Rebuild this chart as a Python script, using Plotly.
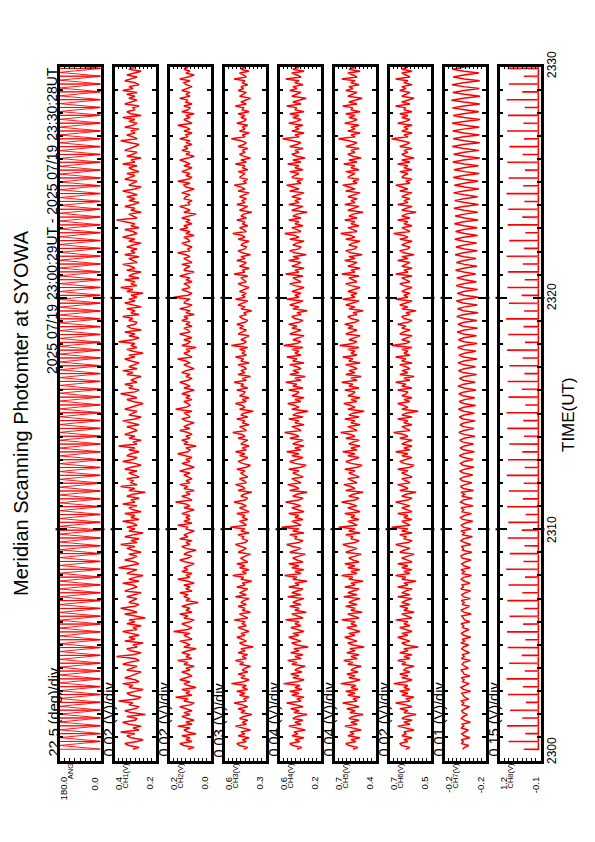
import plotly.graph_objects as go

W, H = 595, 842

# ---------------- data ----------------
channel_names = ["ANG", "CH1(V)", "CH2(V)", "CH3(V)", "CH4(V)", "CH5(V)", "CH6(V)", "CH7(V)", "CH8(V)"]
top_labels = ["180.0", "0.4", "0.2", "0.6", "0.6", "0.7", "0.7", "-0.2", "1.2"]
bottom_labels = ["0.0", "0.2", "0.0", "0.3", "0.2", "0.4", "0.5", "-0.2", "-0.1"]
div_labels = ["22.5 (deg)/div", "0.02 (V)/div", "0.02 (V)/div", "0.03 (V)/div", "0.04 (V)/div",
              "0.04 (V)/div", "0.02 (V)/div", "0.01 (V)/div", "0.15 (V)/div"]
value_ranges = [(180, 0), (0.4, 0.2), (0.2, 0.0), (0.6, 0.3), (0.6, 0.2), (0.74, 0.34), (0.7, 0.5), (-0.15, -0.25), (1.25, -0.1)]
value_divs = [22.5, 0.02, 0.02, 0.03, 0.04, 0.04, 0.02, 0.01, 0.15]
time_tick_labels = ["2300", "2310", "2320", "2330"]
time_tick_values = [0, 10, 20, 30]   # minutes after 23:00

start_min = 29 / 60.0       # 23:00:29
end_min = 30 + 28 / 60.0    # 23:30:28
scan_min = 20.3 / 60.0      # scan period

ch1 = [0.31,0.28,0.33,0.35,0.29,0.26,0.32,0.34,0.30,0.37,0.28,0.31,0.27,0.33,0.36,0.30,0.29,0.34,0.25,0.32,
       0.35,0.30,0.28,0.33,0.31,0.38,0.29,0.27,0.32,0.34,0.30,0.26,0.33,0.31,0.36,0.28,0.30,0.35,0.32,0.29,
       0.27,0.34,0.31,0.29,0.36,0.33,0.28,0.30,0.39,0.31,0.27,0.32,0.34,0.29,0.31,0.26,0.35,0.30,0.33,0.28,
       0.32,0.36,0.29,0.31,0.27,0.34,0.30,0.33,0.25,0.31,0.35,0.29,0.32,0.37,0.30,0.28,0.33,0.31,0.29,0.34,
       0.30,0.27,0.35,0.32,0.29,0.31,0.36,0.28,0.33,0.30,0.26,0.34,0.31,0.29,0.38,0.32,0.28,0.30,0.35,0.31,
       0.29,0.33,0.27,0.31,0.34,0.30,0.37,0.29,0.32,0.28,0.35,0.31,0.26,0.33,0.30,0.34,0.29,0.31,0.36,0.28,
       0.32,0.30,0.35,0.27,0.31,0.33,0.29,0.36,0.30,0.32,0.28,0.34,0.31,0.25,0.33,0.30,0.37,0.29,0.32,0.31,
       0.34,0.28,0.31,0.33,0.29,0.35,0.32,0.27,0.30,0.36,0.31,0.29,0.34,0.32,0.28,0.33,0.30,0.38,0.29,0.31,
       0.27,0.33,0.30,0.35,0.32,0.29,0.31,0.34,0.28,0.32,0.36,0.30,0.27,0.33,0.31,0.29,0.35,0.32,0.30,0.26,
       0.31,0.34,0.29,0.32,0.37,0.30,0.28,0.33,0.31,0.35,0.29,0.32,0.30,0.27,0.34,0.31,0.36,0.29,0.33,0.30,
       0.28,0.32,0.35,0.30,0.33,0.26,0.31,0.34,0.29,0.32,0.30,0.38,0.31,0.28,0.33,0.30,0.35,0.27,0.32,0.34,
       0.30,0.29,0.33,0.31,0.36,0.28,0.32,0.30,0.34,0.27,0.31,0.35,0.30,0.33,0.29,0.32,0.26,0.34,0.31,0.37,
       0.29,0.32,0.30,0.35,0.28,0.33,0.31,0.27,0.34,0.30,0.32,0.36,0.29,0.31,0.33,0.28,0.35,0.30,0.32,0.29,
       0.34,0.31,0.27,0.33,0.30,0.36,0.32,0.29,0.31,0.35,0.28,0.32,0.30,0.34,0.39,0.29,0.31,0.33,0.27,0.32,
       0.30,0.35,0.31,0.28,0.33,0.30,0.34,0.29,0.32,0.36,0.30,0.27,0.33,0.31,0.29,0.35,0.32,0.30,0.34,0.28,
       0.31,0.33,0.29,0.36,0.30,0.32,0.27,0.34,0.31,0.29,0.35,0.32,0.30,0.28,0.33,0.37,0.29,0.31,0.34,0.30,
       0.32,0.28,0.35,0.31,0.29,0.33,0.30,0.36,0.27,0.32,0.34,0.30,0.31,0.28,0.35,0.32,0.29,0.33,0.30,0.34,
       0.29,0.36,0.31,0.33,0.28,0.30,0.35,0.32,0.29,0.34,0.31,0.27,0.33,0.30,0.37,0.31,0.29,0.32,0.35,0.30]
ch2 = [0.11,0.08,0.13,0.15,0.09,0.12,0.10,0.14,0.07,0.11,0.13,0.10,0.16,0.09,0.12,0.08,0.11,0.14,0.10,0.13,
       0.09,0.12,0.15,0.10,0.08,0.13,0.11,0.17,0.09,0.12,0.10,0.14,0.07,0.11,0.13,0.10,0.15,0.12,0.09,0.11,
       0.14,0.10,0.12,0.08,0.13,0.11,0.16,0.09,0.12,0.10,0.14,0.11,0.07,0.13,0.10,0.12,0.15,0.09,0.11,0.13,
       0.10,0.18,0.11,0.09,0.12,0.14,0.10,0.08,0.13,0.11,0.15,0.09,0.12,0.10,0.14,0.11,0.06,0.12,0.10,0.13,
       0.11,0.15,0.09,0.12,0.10,0.13,0.08,0.11,0.16,0.10,0.12,0.09,0.14,0.11,0.13,0.10,0.08,0.12,0.15,0.11,
       0.09,0.13,0.11,0.07,0.12,0.14,0.10,0.12,0.09,0.15,0.11,0.13,0.10,0.08,0.12,0.11,0.16,0.09,0.13,0.10,
       0.12,0.10,0.14,0.11,0.08,0.13,0.10,0.12,0.17,0.09,0.11,0.14,0.10,0.12,0.08,0.13,0.11,0.15,0.10,0.12,
       0.09,0.11,0.13,0.10,0.15,0.12,0.08,0.11,0.14,0.10,0.12,0.09,0.13,0.16,0.11,0.10,0.12,0.07,0.13,0.11,
       0.14,0.10,0.12,0.09,0.11,0.15,0.10,0.13,0.11,0.08,0.12,0.14,0.10,0.11,0.13,0.09,0.17,0.12,0.10,0.11,
       0.13,0.09,0.12,0.10,0.14,0.11,0.08,0.13,0.10,0.12,0.15,0.11,0.09,0.12,0.10,0.14,0.12,0.08,0.11,0.13,
       0.10,0.12,0.16,0.09,0.11,0.13,0.10,0.12,0.07,0.14,0.11,0.10,0.13,0.09,0.12,0.15,0.10,0.11,0.13,0.09,
       0.12,0.10,0.14,0.11,0.13,0.08,0.12,0.10,0.15,0.11,0.09,0.13,0.12,0.10,0.18,0.11,0.09,0.12,0.14,0.10,
       0.11,0.13,0.09,0.12,0.10,0.15,0.11,0.08,0.13,0.12,0.10,0.14,0.09,0.11,0.13,0.10,0.12,0.16,0.10,0.11,
       0.09,0.12,0.14,0.10,0.11,0.13,0.08,0.12,0.10,0.15,0.11,0.13,0.09,0.12,0.10,0.14,0.11,0.07,0.13,0.10,
       0.12,0.15,0.10,0.11,0.09,0.13,0.12,0.10,0.14,0.11,0.08,0.12,0.13,0.10,0.16,0.11,0.09,0.12,0.10,0.14,
       0.11,0.09,0.13,0.10,0.12,0.15,0.11,0.08,0.12,0.10,0.14,0.11,0.13,0.09,0.12,0.10,0.15,0.11,0.12,0.09,
       0.13,0.10,0.12,0.16,0.09,0.11,0.13,0.10,0.12,0.08,0.14,0.11,0.10,0.13,0.09,0.12,0.11,0.15,0.10,0.12,
       0.10,0.14,0.11,0.09,0.12,0.13,0.10,0.15,0.11,0.08,0.12,0.10,0.13,0.11,0.16,0.09,0.12,0.10,0.14,0.11]
ch3 = [0.46,0.43,0.49,0.51,0.44,0.47,0.42,0.50,0.45,0.48,0.41,0.46,0.52,0.44,0.47,0.43,0.49,0.46,0.40,0.48,
       0.45,0.50,0.43,0.47,0.53,0.44,0.46,0.42,0.49,0.45,0.51,0.43,0.47,0.44,0.55,0.46,0.42,0.48,0.45,0.50,
       0.43,0.47,0.45,0.41,0.49,0.46,0.52,0.44,0.47,0.43,0.50,0.45,0.48,0.39,0.46,0.49,0.44,0.47,0.51,0.45,
       0.48,0.42,0.46,0.50,0.44,0.47,0.45,0.53,0.43,0.46,0.49,0.41,0.47,0.45,0.50,0.44,0.48,0.46,0.42,0.52,
       0.44,0.49,0.46,0.43,0.51,0.45,0.47,0.40,0.48,0.46,0.54,0.44,0.47,0.42,0.49,0.45,0.51,0.43,0.46,0.48,
       0.45,0.41,0.50,0.47,0.44,0.48,0.52,0.45,0.43,0.47,0.46,0.50,0.42,0.48,0.45,0.56,0.44,0.46,0.49,0.43,
       0.47,0.45,0.51,0.42,0.46,0.49,0.44,0.47,0.53,0.45,0.43,0.48,0.46,0.40,0.50,0.45,0.47,0.52,0.44,0.46,
       0.49,0.43,0.46,0.48,0.45,0.51,0.44,0.41,0.47,0.50,0.46,0.43,0.49,0.45,0.52,0.44,0.47,0.42,0.48,0.46,
       0.43,0.50,0.45,0.47,0.54,0.44,0.46,0.49,0.42,0.47,0.45,0.51,0.43,0.48,0.46,0.39,0.49,0.45,0.47,0.52,
       0.44,0.47,0.42,0.49,0.46,0.45,0.51,0.43,0.48,0.46,0.53,0.44,0.47,0.41,0.50,0.45,0.48,0.44,0.46,0.50,
       0.42,0.48,0.46,0.52,0.44,0.47,0.45,0.49,0.43,0.55,0.46,0.44,0.48,0.45,0.42,0.50,0.47,0.44,0.49,0.46,
       0.51,0.45,0.43,0.47,0.49,0.44,0.46,0.40,0.48,0.45,0.50,0.46,0.43,0.52,0.45,0.47,0.44,0.49,0.46,0.42,
       0.47,0.50,0.44,0.46,0.48,0.43,0.53,0.45,0.47,0.42,0.49,0.46,0.44,0.51,0.45,0.48,0.41,0.47,0.50,0.45,
       0.44,0.48,0.46,0.42,0.50,0.45,0.47,0.54,0.44,0.46,0.49,0.43,0.47,0.45,0.51,0.44,0.48,0.46,0.40,0.49,
       0.46,0.43,0.51,0.45,0.47,0.44,0.49,0.46,0.42,0.50,0.45,0.48,0.53,0.44,0.46,0.43,0.49,0.47,0.45,0.50,
       0.43,0.47,0.45,0.52,0.44,0.48,0.41,0.46,0.49,0.45,0.47,0.43,0.50,0.46,0.44,0.48,0.55,0.45,0.47,0.42,
       0.49,0.45,0.47,0.43,0.51,0.46,0.44,0.48,0.45,0.50,0.42,0.47,0.46,0.52,0.44,0.48,0.45,0.41,0.49,0.46,
       0.44,0.50,0.46,0.48,0.43,0.47,0.45,0.53,0.44,0.46,0.49,0.42,0.48,0.45,0.51,0.44,0.47,0.46,0.50,0.45]
ch4 = [0.43,0.38,0.47,0.50,0.40,0.45,0.36,0.48,0.42,0.46,0.35,0.43,0.51,0.39,0.45,0.37,0.47,0.43,0.33,0.46,
       0.41,0.49,0.37,0.44,0.53,0.39,0.43,0.36,0.48,0.41,0.50,0.38,0.45,0.40,0.56,0.43,0.36,0.47,0.41,0.49,
       0.38,0.45,0.42,0.35,0.48,0.43,0.52,0.39,0.45,0.37,0.49,0.41,0.46,0.32,0.43,0.48,0.39,0.45,0.51,0.41,
       0.47,0.36,0.43,0.49,0.39,0.45,0.41,0.54,0.37,0.43,0.48,0.34,0.45,0.41,0.50,0.39,0.47,0.43,0.36,0.52,
       0.39,0.48,0.43,0.37,0.51,0.41,0.45,0.33,0.47,0.43,0.55,0.39,0.45,0.36,0.48,0.41,0.51,0.37,0.43,0.47,
       0.41,0.35,0.50,0.45,0.39,0.47,0.53,0.41,0.37,0.45,0.43,0.50,0.36,0.47,0.41,0.58,0.39,0.43,0.48,0.37,
       0.45,0.41,0.51,0.36,0.43,0.48,0.39,0.45,0.54,0.41,0.37,0.47,0.43,0.33,0.50,0.41,0.45,0.52,0.39,0.43,
       0.48,0.37,0.43,0.47,0.41,0.51,0.39,0.34,0.45,0.50,0.43,0.37,0.48,0.41,0.53,0.39,0.45,0.36,0.47,0.43,
       0.37,0.50,0.41,0.45,0.55,0.39,0.43,0.48,0.36,0.45,0.41,0.51,0.37,0.47,0.43,0.32,0.48,0.41,0.45,0.52,
       0.39,0.45,0.36,0.48,0.43,0.41,0.51,0.37,0.47,0.43,0.54,0.39,0.45,0.35,0.50,0.41,0.47,0.39,0.43,0.50,
       0.36,0.47,0.43,0.53,0.39,0.45,0.41,0.48,0.37,0.56,0.43,0.39,0.47,0.41,0.36,0.50,0.45,0.39,0.48,0.43,
       0.51,0.41,0.37,0.45,0.48,0.39,0.43,0.33,0.47,0.41,0.50,0.43,0.37,0.53,0.41,0.45,0.39,0.48,0.43,0.36,
       0.45,0.50,0.39,0.43,0.47,0.37,0.54,0.41,0.45,0.36,0.48,0.43,0.39,0.51,0.41,0.47,0.34,0.45,0.50,0.41,
       0.39,0.47,0.43,0.36,0.50,0.41,0.45,0.55,0.39,0.43,0.48,0.37,0.45,0.41,0.51,0.39,0.47,0.43,0.33,0.48,
       0.43,0.37,0.51,0.41,0.45,0.39,0.48,0.43,0.36,0.50,0.41,0.47,0.53,0.39,0.43,0.37,0.48,0.45,0.41,0.50,
       0.37,0.45,0.41,0.52,0.39,0.47,0.35,0.43,0.48,0.41,0.45,0.37,0.50,0.43,0.39,0.47,0.57,0.41,0.45,0.36,
       0.48,0.41,0.45,0.37,0.51,0.43,0.39,0.47,0.41,0.50,0.36,0.45,0.43,0.53,0.39,0.47,0.41,0.34,0.48,0.43,
       0.39,0.50,0.43,0.47,0.37,0.45,0.41,0.54,0.39,0.43,0.48,0.36,0.47,0.41,0.51,0.39,0.45,0.43,0.50,0.41]
ch5 = [0.56,0.51,0.60,0.63,0.53,0.58,0.49,0.61,0.55,0.59,0.48,0.56,0.64,0.52,0.58,0.50,0.60,0.56,0.46,0.59,
       0.54,0.62,0.50,0.57,0.66,0.52,0.56,0.49,0.61,0.54,0.63,0.51,0.58,0.53,0.68,0.56,0.49,0.60,0.54,0.62,
       0.51,0.58,0.55,0.48,0.61,0.56,0.65,0.52,0.58,0.50,0.62,0.54,0.59,0.45,0.56,0.61,0.52,0.58,0.64,0.54,
       0.60,0.49,0.56,0.62,0.52,0.58,0.54,0.67,0.50,0.56,0.61,0.47,0.58,0.54,0.63,0.52,0.60,0.56,0.49,0.65,
       0.52,0.61,0.56,0.50,0.64,0.54,0.58,0.46,0.60,0.56,0.67,0.52,0.58,0.49,0.61,0.54,0.64,0.50,0.56,0.60,
       0.54,0.48,0.63,0.58,0.52,0.60,0.66,0.54,0.50,0.58,0.56,0.63,0.49,0.60,0.54,0.70,0.52,0.56,0.61,0.50,
       0.58,0.54,0.64,0.49,0.56,0.61,0.52,0.58,0.67,0.54,0.50,0.60,0.56,0.46,0.63,0.54,0.58,0.65,0.52,0.56,
       0.61,0.50,0.56,0.60,0.54,0.64,0.52,0.47,0.58,0.63,0.56,0.50,0.61,0.54,0.66,0.52,0.58,0.49,0.60,0.56,
       0.50,0.63,0.54,0.58,0.68,0.52,0.56,0.61,0.49,0.58,0.54,0.64,0.50,0.60,0.56,0.45,0.61,0.54,0.58,0.65,
       0.52,0.58,0.49,0.61,0.56,0.54,0.64,0.50,0.60,0.56,0.67,0.52,0.58,0.48,0.63,0.54,0.60,0.52,0.56,0.63,
       0.49,0.60,0.56,0.66,0.52,0.58,0.54,0.61,0.50,0.69,0.56,0.52,0.60,0.54,0.49,0.63,0.58,0.52,0.61,0.56,
       0.64,0.54,0.50,0.58,0.61,0.52,0.56,0.46,0.60,0.54,0.63,0.56,0.50,0.66,0.54,0.58,0.52,0.61,0.56,0.49,
       0.58,0.63,0.52,0.56,0.60,0.50,0.67,0.54,0.58,0.49,0.61,0.56,0.52,0.64,0.54,0.60,0.47,0.58,0.63,0.54,
       0.52,0.60,0.56,0.49,0.63,0.54,0.58,0.68,0.52,0.56,0.61,0.50,0.58,0.54,0.64,0.52,0.60,0.56,0.46,0.61,
       0.56,0.50,0.64,0.54,0.58,0.52,0.61,0.56,0.49,0.63,0.54,0.60,0.66,0.52,0.56,0.50,0.61,0.58,0.54,0.63,
       0.50,0.58,0.54,0.65,0.52,0.60,0.48,0.56,0.61,0.54,0.58,0.50,0.63,0.56,0.52,0.60,0.70,0.54,0.58,0.49,
       0.61,0.54,0.58,0.50,0.64,0.56,0.52,0.60,0.54,0.63,0.49,0.58,0.56,0.66,0.52,0.60,0.54,0.47,0.61,0.56,
       0.52,0.63,0.56,0.60,0.50,0.58,0.54,0.67,0.52,0.56,0.61,0.49,0.60,0.54,0.64,0.52,0.58,0.56,0.63,0.54]
ch6 = [0.62,0.60,0.64,0.65,0.61,0.63,0.59,0.64,0.62,0.63,0.58,0.62,0.66,0.60,0.63,0.59,0.64,0.62,0.57,0.63,
       0.61,0.65,0.59,0.62,0.67,0.60,0.62,0.58,0.64,0.61,0.65,0.60,0.63,0.61,0.68,0.62,0.59,0.64,0.61,0.65,
       0.60,0.63,0.62,0.58,0.64,0.62,0.66,0.60,0.63,0.59,0.65,0.61,0.63,0.56,0.62,0.64,0.60,0.63,0.66,0.61,
       0.64,0.59,0.62,0.65,0.60,0.63,0.61,0.67,0.59,0.62,0.64,0.58,0.63,0.61,0.65,0.60,0.64,0.62,0.59,0.66,
       0.60,0.64,0.62,0.59,0.66,0.61,0.63,0.57,0.64,0.62,0.67,0.60,0.63,0.59,0.64,0.61,0.66,0.59,0.62,0.64,
       0.61,0.58,0.65,0.63,0.60,0.64,0.67,0.61,0.59,0.63,0.62,0.65,0.59,0.64,0.61,0.69,0.60,0.62,0.64,0.59,
       0.63,0.61,0.66,0.59,0.62,0.64,0.60,0.63,0.67,0.61,0.59,0.64,0.62,0.57,0.65,0.61,0.63,0.66,0.60,0.62,
       0.64,0.59,0.62,0.64,0.61,0.66,0.60,0.58,0.63,0.65,0.62,0.59,0.64,0.61,0.67,0.60,0.63,0.59,0.64,0.62,
       0.59,0.65,0.61,0.63,0.68,0.60,0.62,0.64,0.59,0.63,0.61,0.66,0.59,0.64,0.62,0.56,0.64,0.61,0.63,0.66,
       0.60,0.63,0.59,0.64,0.62,0.61,0.66,0.59,0.64,0.62,0.67,0.60,0.63,0.58,0.65,0.61,0.64,0.60,0.62,0.65,
       0.59,0.64,0.62,0.67,0.60,0.63,0.61,0.64,0.59,0.69,0.62,0.60,0.64,0.61,0.59,0.65,0.63,0.60,0.64,0.62,
       0.66,0.61,0.59,0.63,0.64,0.60,0.62,0.57,0.64,0.61,0.65,0.62,0.59,0.67,0.61,0.63,0.60,0.64,0.62,0.59,
       0.63,0.65,0.60,0.62,0.64,0.59,0.67,0.61,0.63,0.59,0.64,0.62,0.60,0.66,0.61,0.64,0.58,0.63,0.65,0.61,
       0.60,0.64,0.62,0.59,0.65,0.61,0.63,0.68,0.60,0.62,0.64,0.59,0.63,0.61,0.66,0.60,0.64,0.62,0.57,0.64,
       0.62,0.59,0.66,0.61,0.63,0.60,0.64,0.62,0.59,0.65,0.61,0.64,0.67,0.60,0.62,0.59,0.64,0.63,0.61,0.65,
       0.59,0.63,0.61,0.66,0.60,0.64,0.58,0.62,0.64,0.61,0.63,0.59,0.65,0.62,0.60,0.64,0.69,0.61,0.63,0.59,
       0.64,0.61,0.63,0.59,0.66,0.62,0.60,0.64,0.61,0.65,0.59,0.63,0.62,0.67,0.60,0.64,0.61,0.58,0.64,0.62,
       0.60,0.65,0.62,0.64,0.59,0.63,0.61,0.67,0.60,0.62,0.64,0.59,0.64,0.61,0.66,0.60,0.63,0.62,0.65,0.61]
ch7 = [-0.194,-0.199,-0.209,-0.192,-0.196,-0.191,-0.212,-0.198,-0.192,-0.201,-0.208,-0.190,-0.197,-0.193,-0.213,-0.199,-0.191,-0.196,-0.206,-0.195,
       -0.192,-0.200,-0.211,-0.193,-0.197,-0.190,-0.209,-0.199,-0.195,-0.192,-0.214,-0.196,-0.190,-0.201,-0.210,-0.194,-0.198,-0.191,-0.212,-0.197,
       -0.195,-0.190,-0.208,-0.199,-0.193,-0.197,-0.213,-0.191,-0.198,-0.194,-0.211,-0.200,-0.192,-0.196,-0.209,-0.190,-0.199,-0.193,-0.214,-0.197,
       -0.191,-0.199,-0.210,-0.194,-0.197,-0.190,-0.212,-0.199,-0.195,-0.192,-0.215,-0.197,-0.190,-0.200,-0.211,-0.193,-0.198,-0.191,-0.213,-0.196,
       -0.192,-0.200,-0.214,-0.190,-0.196,-0.193,-0.212,-0.199,-0.191,-0.196,-0.216,-0.192,-0.199,-0.190,-0.213,-0.197,-0.192,-0.200,-0.215,-0.193,
       -0.190,-0.198,-0.217,-0.194,-0.196,-0.191,-0.214,-0.199,-0.190,-0.197,-0.218,-0.193,-0.199,-0.190,-0.215,-0.196,-0.191,-0.200,-0.219,-0.194,
       -0.189,-0.199,-0.216,-0.193,-0.197,-0.190,-0.220,-0.199,-0.189,-0.195,-0.218,-0.192,-0.199,-0.190,-0.221,-0.196,-0.189,-0.200,-0.217,-0.193,
       -0.188,-0.197,-0.219,-0.196,-0.187,-0.199,-0.222,-0.195,-0.189,-0.198,-0.220,-0.197,-0.186,-0.197,-0.223,-0.196,-0.188,-0.199,-0.221,-0.195,
       -0.187,-0.198,-0.224,-0.197,-0.185,-0.197,-0.222,-0.196,-0.188,-0.199,-0.225,-0.195,-0.186,-0.198,-0.223,-0.197,-0.184,-0.197,-0.226,-0.196,
       -0.186,-0.199,-0.224,-0.195,-0.185,-0.198,-0.227,-0.197,-0.183,-0.197,-0.225,-0.196,-0.186,-0.199,-0.228,-0.195,-0.184,-0.198,-0.226,-0.197,
       -0.183,-0.197,-0.229,-0.196,-0.185,-0.199,-0.227,-0.195,-0.182,-0.198,-0.230,-0.197,-0.184,-0.197,-0.228,-0.196,-0.181,-0.199,-0.231,-0.195,
       -0.183,-0.198,-0.229,-0.197,-0.180,-0.197,-0.232,-0.196,-0.182,-0.199,-0.230,-0.195,-0.179,-0.198,-0.233,-0.197,-0.181,-0.197,-0.231,-0.196,
       -0.178,-0.196,-0.228,-0.199,-0.180,-0.198,-0.226,-0.197,-0.177,-0.196,-0.229,-0.199,-0.179,-0.197,-0.227,-0.198,-0.176,-0.196,-0.230,-0.199,
       -0.178,-0.198,-0.229,-0.197,-0.175,-0.196,-0.231,-0.199,-0.177,-0.197,-0.230,-0.198,-0.174,-0.196,-0.232,-0.199,-0.176,-0.198,-0.231,-0.197,
       -0.173,-0.196,-0.233,-0.199,-0.175,-0.197,-0.231,-0.198,-0.172,-0.196,-0.234,-0.199,-0.174,-0.198,-0.232,-0.197,-0.171,-0.196,-0.235,-0.199,
       -0.173,-0.197,-0.233,-0.198,-0.170,-0.196,-0.236,-0.199,-0.172,-0.198,-0.234,-0.197,-0.169,-0.196,-0.236,-0.199,-0.171,-0.197,-0.235,-0.198,
       -0.170,-0.196,-0.235,-0.199,-0.168,-0.198,-0.237,-0.197,-0.171,-0.196,-0.234,-0.199,-0.169,-0.197,-0.236,-0.198,-0.167,-0.196,-0.237,-0.199,
       -0.170,-0.198,-0.235,-0.197,-0.168,-0.196,-0.236,-0.199,-0.171,-0.197,-0.234,-0.198,-0.169,-0.196,-0.236,-0.199,-0.172,-0.198,-0.233,-0.197]
ch8_peaks = [0.45,0.95,0.40,1.00,0.50,0.90,0.38,0.97,0.48,1.02,0.42,0.93,0.52,0.98,0.40,1.00,0.47,0.92,0.44,0.99,
             0.50,0.95,0.41,1.03,0.46,0.91,0.43,0.98,0.52,0.96,0.39,1.00,0.48,0.94,0.45,1.01,0.42,0.97,0.50,0.93,
             0.44,0.99,0.47,1.02,0.40,0.95,0.51,0.98,0.43,0.92,0.49,1.00,0.41,0.96,0.46,1.03,0.44,0.94,0.52,0.99,
             0.42,0.97,0.48,1.01,0.45,0.93,0.40,0.98,0.50,0.96,0.43,1.02,0.47,0.95,0.41,0.99,0.49,0.92,0.44,1.00,
             0.46,0.97,0.42,1.01,0.50,0.94,0.45,0.98,0.43,0.96]
ch8_base = -0.03
# one scan of the mirror angle: (seconds into scan, degrees)
ang_scan_sec = [0.0, 0.5, 10.0]
ang_scan_deg = [180.0, 0.0, 180.0]
ang_scan_end_deg = 0.0

# ---------------- layout geometry (pixels) ----------------
panel_left = [59.5, 114.5, 169.5, 224.5, 279.5, 334.5, 389.5, 444.5, 499.5]
panel_w = 41.0
panel_top, panel_bot = 66.5, 760.5

def px(x):
    return x / W

def py(y):
    return 1 - y / H

def times_for(n):
    return [start_min + k * (end_min - start_min) / (n - 1) for k in range(n)]

# approximate Arial advance widths (em) to place rotated labels by their centre
_EM = {"0": .556, "1": .556, "2": .556, "3": .556, "4": .556, "5": .556, "6": .556, "7": .556,
       "8": .556, "9": .556, ".": .278, "-": .333, "(": .333, ")": .333, "A": .667, "N": .722,
       "G": .778, "C": .722, "H": .722, "V": .667}

def text_len(s, size):
    return sum(_EM.get(c, .556) for c in s) * size

fig = go.Figure()
red = "#ff0000"
series = [None, ch1, ch2, ch3, ch4, ch5, ch6, ch7, None]
nscan = len(ch8_peaks)

# ANG trace
ang_t, ang_v = [], []
for k in range(nscan):
    t = start_min + k * scan_min
    for s, d in zip(ang_scan_sec, ang_scan_deg):
        ang_t.append(t + s / 60.0)
        ang_v.append(d)
    ang_t.append(t + scan_min * 0.99)
    ang_v.append(ang_scan_end_deg)

# CH8 spikes
c8_t, c8_v = [], []
for k, pk in enumerate(ch8_peaks):
    t = start_min + k * scan_min
    c8_t += [t - 0.6 / 60, t, t + 0.6 / 60]
    c8_v += [ch8_base, pk, ch8_base]

shapes = []
for i in range(9):
    ax = "" if i == 0 else str(i + 1)
    if i == 0:
        xs, ts, lw = ang_v, ang_t, 0.9
    elif i == 8:
        xs, ts, lw = c8_v, c8_t, 1.6
    else:
        xs, ts, lw = series[i], times_for(len(series[i])), 1.5
    fig.add_trace(go.Scatter(x=xs, y=ts, mode="lines", line=dict(color=red, width=lw),
                             xaxis="x" + ax, yaxis="y" + ax, showlegend=False, hoverinfo="skip"))
    l = panel_left[i]
    fig.layout["xaxis" + ax] = dict(
        domain=[px(l), px(l + panel_w)], anchor="y" + ax,
        range=list(value_ranges[i]), showgrid=False, zeroline=False,
        showline=True, linecolor="black", linewidth=2.5, mirror="allticks",
        ticks="inside", ticklen=3, tickwidth=1, tickcolor="black",
        tickmode="linear", tick0=value_ranges[i][1], dtick=value_divs[i],
        showticklabels=False, fixedrange=True)
    fig.layout["yaxis" + ax] = dict(
        domain=[py(panel_bot), py(panel_top)], anchor="x" + ax,
        range=[0, 30], showgrid=False, zeroline=False,
        showline=True, linecolor="black", linewidth=2.5, mirror="allticks",
        ticks="inside", ticklen=8, tickwidth=2, tickcolor="black",
        tickmode="array", tickvals=time_tick_values, showticklabels=False,
        minor=dict(ticks="inside", ticklen=4, tickwidth=1.5, tickcolor="black", dtick=1, tick0=0),
        fixedrange=True)
    # outward part of the 10-minute ticks
    for tv in time_tick_values[1:3]:
        for x0, x1 in ((l - 4, l), (l + panel_w, l + panel_w + 4)):
            shapes.append(dict(type="line", xref="paper", yref="y" + ax, x0=px(x0), x1=px(x1),
                               y0=tv, y1=tv, line=dict(color="black", width=2)))

font = "Liberation Sans, Arial, sans-serif"
ann = []
ann.append(dict(text="Meridian Scanning Photomter at SYOWA", x=px(21), y=py(413), textangle=-90,
                font=dict(size=20, family=font, color="black")))
ann.append(dict(text="2025 07/19 23:00:29UT - 2025 07/19 23:30:28UT", x=px(51.5), y=py(65), yanchor="top",
                textangle=-90, font=dict(size=14, family=font, color="black")))
val_size, name_size = 9.5, 7.5
for i in range(9):
    l = panel_left[i]
    ann.append(dict(text=div_labels[i], x=px(l - 6.5), y=py(759), yanchor="bottom", textangle=-90,
                    font=dict(size=14.5, family=font, color="black")))
    ann.append(dict(text=top_labels[i], x=px(l + 4),
                    y=py(777 + text_len(top_labels[i], val_size) / 2), textangle=-90,
                    font=dict(size=val_size, family=font, color="black")))
    ann.append(dict(text=bottom_labels[i], x=px(l + panel_w - 5.5),
                    y=py(777 + text_len(bottom_labels[i], val_size) / 2), textangle=-90,
                    font=dict(size=val_size, family=font, color="black")))
    ann.append(dict(text=channel_names[i], x=px(l + 10.5),
                    y=py(763 + text_len(channel_names[i], name_size) / 2), textangle=-90,
                    font=dict(size=name_size, family=font, color="black")))
tick_y = [751, 530, 297, 65]
for lab, yy in zip(time_tick_labels, tick_y):
    ann.append(dict(text=lab, x=px(552), y=py(yy), textangle=-90,
                    font=dict(size=12, family=font, color="black")))
ann.append(dict(text="TIME(UT)", x=px(568), y=py(415), textangle=-90,
                font=dict(size=17, family=font, color="black")))
for a in ann:
    a.update(xref="paper", yref="paper", showarrow=False)
    a.setdefault("xanchor", "center")
    a.setdefault("yanchor", "middle")

fig.update_layout(width=W, height=H, autosize=False, margin=dict(l=0, r=0, t=0, b=0),
                  paper_bgcolor="white", plot_bgcolor="white", annotations=ann, shapes=shapes)
fig.write_html("out.html", config={"displayModeBar": False},
               post_script="document.body.style.margin='0px';document.body.style.overflow='hidden';")
